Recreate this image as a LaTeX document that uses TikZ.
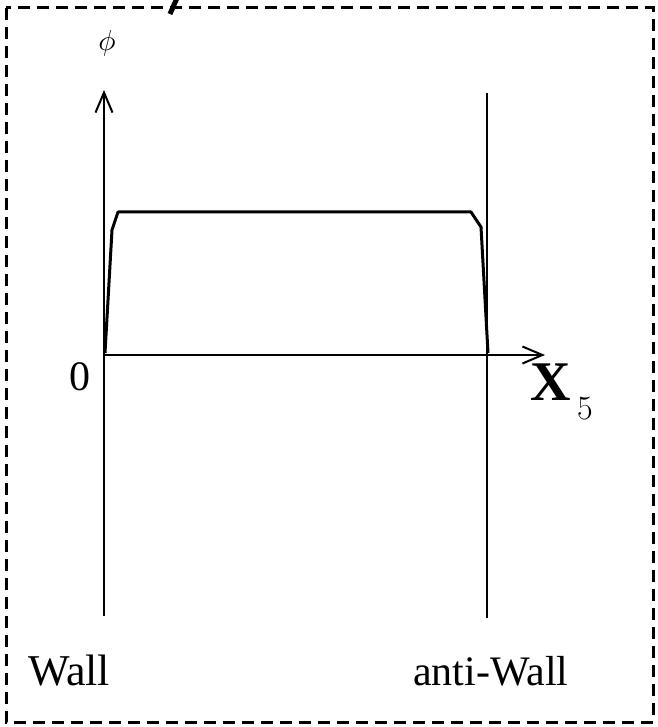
\RequirePackage{fix-cm}
\documentclass[tikz,border=0pt]{standalone}
\usepackage{fontspec}
\setmainfont{Liberation Serif}
\usetikzlibrary{arrows.meta}
\begin{document}
\begin{tikzpicture}[x=1pt,y=-1pt,
  axis/.style={line width=2pt,-{Straight Barb[length=20pt,width=17pt,line width=2pt]}},
  wallline/.style={line width=2.2pt},
  profile/.style={line width=3pt,line join=round},
  lbl/.style={inner sep=0pt,font=\fontsize{44}{48}\selectfont}]
\useasboundingbox (0,0) rectangle (657,727);
\draw[line width=3pt,dash pattern=on 12pt off 7pt] (6,8) rectangle (653,722);
\draw[line width=5pt] (177,-2) -- (170,14);
% axes
\coordinate (o) at (104,355);
\coordinate (ybot) at (104,616);
\coordinate (ytop) at (104,90);
\coordinate (xend) at (545,355);
\coordinate (wtop) at (487,93);
\coordinate (wbot) at (487,618);
\draw[wallline] (ybot) -- (o);
\draw[axis] (o) -- (ytop);
\draw[axis] (o) -- (xend);
\draw[wallline] (wbot) -- (wtop);
% profile
\draw[profile] (105,353) -- (112,230) -- (118,212) -- (471,212) -- (481,227) -- (488,353);
% labels
\node[inner sep=0pt] (phi) at (107,43) {\scalebox{2.9}{$\phi$}};
\node[lbl,font=\fontsize{42}{46}\selectfont] (zero) at (80,377) {0};
\node[inner sep=0pt,font=\fontsize{56}{60}\selectfont\bfseries] (X) at (551,382) {X};
\node[inner sep=0pt,font=\fontsize{34}{36}\selectfont] (five) at (585,409) {$5$};
\node[lbl,anchor=base west] (wall) at (28,685) {Wall};
\node[lbl,font=\fontsize{42}{46}\selectfont,anchor=base west] (anti) at (413,685) {anti-Wall};
\end{tikzpicture}
\end{document}
